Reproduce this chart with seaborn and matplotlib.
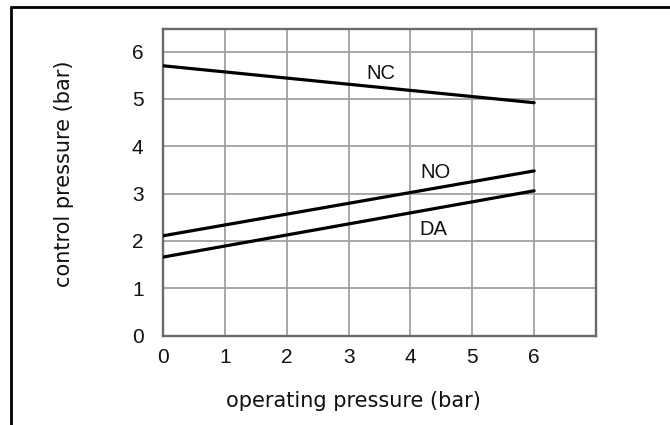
import pandas as pd
import matplotlib
matplotlib.use("Agg")
import matplotlib.pyplot as plt
import seaborn as sns
from matplotlib.lines import Line2D

# ==========================================
# DATA
# ==========================================
operating = [0, 6]
nc_values = [5.70, 4.92]
no_values = [2.11, 3.48]
da_values = [1.66, 3.06]
valve_names = ["NC", "NO", "DA"]
label_x = [3.52, 4.40, 4.37]
label_y = [5.53, 3.44, 2.25]
x_ticks = [0, 1, 2, 3, 4, 5, 6]
y_ticks = [0, 1, 2, 3, 4, 5, 6]
# ==========================================

df = pd.DataFrame({
    "operating": operating * 3,
    "control": nc_values + no_values + da_values,
    "valve": [v for v in valve_names for _ in operating],
})

sns.set_style("white")
plt.rcParams["font.family"] = ["Liberation Sans", "DejaVu Sans"]

fig = plt.figure(figsize=(6.7, 4.25), dpi=100)
ax = fig.add_axes([163 / 670, 1 - 335.7 / 425, 433 / 670, 306.4 / 425])

sns.lineplot(data=df, x="operating", y="control", hue="valve",
             palette={v: "black" for v in valve_names}, legend=False,
             linewidth=2.3, ax=ax, zorder=3)

ax.set_xlim(0, 7)
ax.set_ylim(0, 6.47)
ax.set_xticks(x_ticks)
ax.set_yticks(y_ticks)
ax.grid(True, color="#a0a0a0", linewidth=1.3)
ax.tick_params(axis="both", length=0, labelsize=15, colors="#111111")
ax.tick_params(axis="y", pad=14)
ax.tick_params(axis="x", pad=9)
for sp in ax.spines.values():
    sp.set_visible(True)
    sp.set_color("#6a6a6a")
    sp.set_linewidth(1.7)

for name, lx, ly in zip(valve_names, label_x, label_y):
    ax.text(lx, ly, name, ha="center", va="center", fontsize=14.5, color="#111111")

ax.set_xlabel("operating pressure (bar)", fontsize=15, family="DejaVu Sans", color="#111111")
ax.set_ylabel("control pressure (bar)", fontsize=15, family="DejaVu Sans", color="#111111")
ax.xaxis.label.set_va("center")
ax.yaxis.label.set_va("center")
ax.xaxis.set_label_coords(0.439, -0.212)
ax.yaxis.set_label_coords(-0.228, 0.528)

# outer frame (left and top edges only)
fx, fy = 11 / 670, 1 - 7 / 425
fig.add_artist(Line2D([fx, fx], [0, fy], transform=fig.transFigure, color="black", linewidth=2))
fig.add_artist(Line2D([fx, 1], [fy, fy], transform=fig.transFigure, color="black", linewidth=2))

fig.savefig("out.png", dpi=100)
